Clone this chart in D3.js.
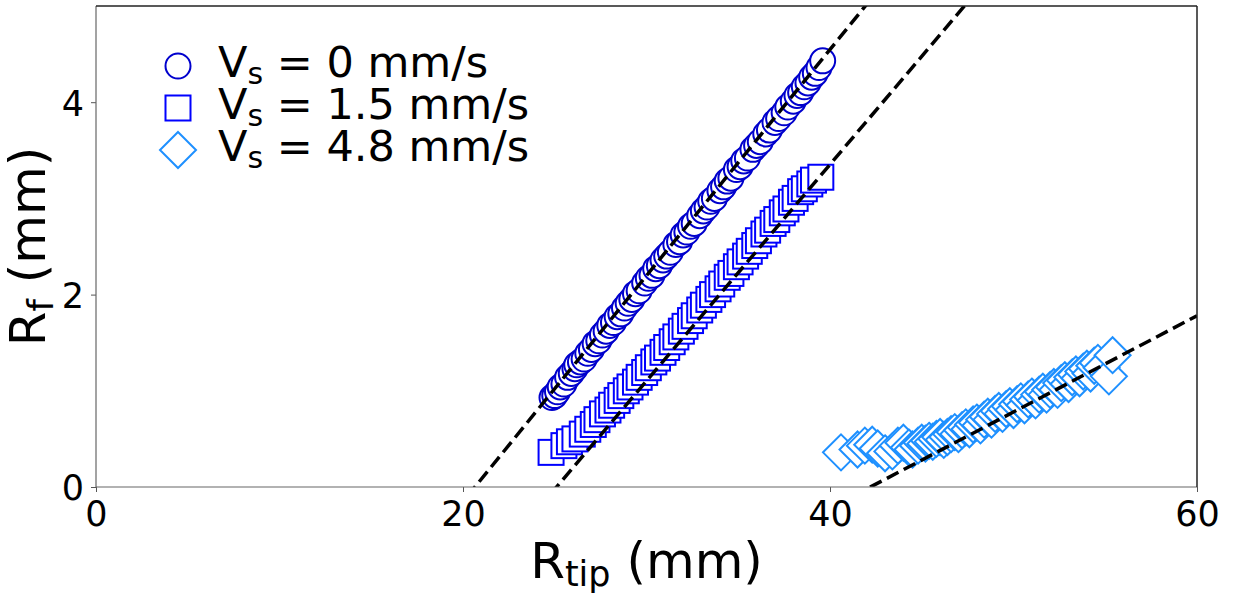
<!DOCTYPE html>
<html>
<head>
<meta charset="utf-8">
<script src="https://cdn.jsdelivr.net/npm/d3@7"></script>
<style>
  body { margin: 0; background: #fff; }
  text { font-family: "DejaVu Sans", sans-serif; }
</style>
</head>
<body>
<div id="chart"></div>
<script>
// series (R_tip in mm, R_f in mm)
const circX = [24.85, 25.0, 25.15, 25.3, 25.5, 25.7, 25.9, 26.1, 26.2, 26.4, 26.6, 26.8, 27.0, 27.2, 27.4, 27.6, 27.8, 28.0, 28.2, 28.4,
  28.6, 28.8, 29.0, 29.2, 29.4, 29.6, 29.9, 30.1, 30.3, 30.5, 30.7, 30.9, 31.1, 31.3, 31.6, 31.8, 32.0, 32.2, 32.4, 32.6,
  32.9, 33.1, 33.3, 33.5, 33.7, 34.0, 34.2, 34.4, 34.6, 34.9, 35.1, 35.3, 35.5, 35.8, 36.0, 36.2, 36.5, 36.7, 37.0, 37.2,
  37.5, 37.7, 38.0, 38.2, 38.4, 38.6, 38.8, 39.0, 39.2, 39.4, 39.6];
const circY = [0.93, 0.95, 0.99, 1.04, 1.07, 1.14, 1.18, 1.23, 1.27, 1.30, 1.33, 1.39, 1.43, 1.49, 1.52, 1.58, 1.62, 1.68, 1.71, 1.77,
  1.80, 1.86, 1.91, 1.95, 2.01, 2.04, 2.12, 2.17, 2.20, 2.27, 2.30, 2.36, 2.40, 2.44, 2.52, 2.55, 2.62, 2.65, 2.71, 2.74,
  2.82, 2.87, 2.91, 2.97, 3.00, 3.08, 3.12, 3.18, 3.21, 3.30, 3.33, 3.39, 3.42, 3.51, 3.55, 3.59, 3.67, 3.71, 3.79, 3.83,
  3.89, 3.95, 4.01, 4.07, 4.10, 4.16, 4.20, 4.26, 4.30, 4.36, 4.43];

const sqX = [24.8, 25.5, 25.8, 26.1, 26.5, 26.8, 27.1, 27.3, 27.6, 27.9, 28.1, 28.4, 28.6, 28.9, 29.1, 29.4, 29.6, 29.9, 30.1, 30.4,
  30.6, 30.9, 31.1, 31.4, 31.6, 31.9, 32.1, 32.4, 32.6, 32.9, 33.1, 33.4, 33.6, 33.9, 34.1, 34.4, 34.6, 34.9, 35.1, 35.4,
  35.6, 35.9, 36.1, 36.4, 36.6, 36.9, 37.1, 37.4, 37.6, 37.9, 38.1, 38.4, 38.6, 38.9, 39.1, 39.5];
const sqY = [0.36, 0.43, 0.47, 0.50, 0.55, 0.60, 0.65, 0.70, 0.76, 0.80, 0.85, 0.90, 0.95, 1.00, 1.04, 1.09, 1.14, 1.19, 1.24, 1.30,
  1.34, 1.40, 1.45, 1.51, 1.56, 1.62, 1.67, 1.73, 1.78, 1.84, 1.89, 1.95, 2.00, 2.06, 2.11, 2.18, 2.22, 2.29, 2.34, 2.40,
  2.45, 2.51, 2.56, 2.63, 2.67, 2.74, 2.78, 2.85, 2.89, 2.96, 3.00, 3.07, 3.10, 3.15, 3.19, 3.22];

const diaX = [40.6, 41.5, 41.9, 42.3, 42.6, 43.0, 43.4, 43.7, 44.0, 44.3, 44.5, 44.8, 45.0, 45.2, 45.4, 45.6, 45.8, 46.0, 46.2, 46.4,
  46.6, 46.8, 47.0, 47.2, 47.4, 47.6, 47.8, 48.0, 48.2, 48.4, 48.6, 48.8, 49.0, 49.2, 49.4, 49.6, 49.8, 50.0, 50.2, 50.4,
  50.6, 50.8, 51.0, 51.2, 51.4, 51.6, 51.8, 52.0, 52.2, 52.4, 52.6, 52.8, 53.0, 53.2, 53.4, 53.6, 53.8, 54.0, 54.2, 54.4,
  54.6, 54.8, 55.2, 55.4];
const diaY = [0.36, 0.39, 0.43, 0.44, 0.40, 0.35, 0.37, 0.43, 0.46, 0.41, 0.39, 0.43, 0.46, 0.45, 0.48, 0.47, 0.50, 0.52, 0.49, 0.52,
  0.55, 0.57, 0.55, 0.59, 0.62, 0.60, 0.65, 0.67, 0.64, 0.70, 0.73, 0.70, 0.76, 0.79, 0.76, 0.81, 0.84, 0.80, 0.86, 0.89,
  0.85, 0.91, 0.94, 0.90, 0.96, 0.99, 0.96, 1.01, 1.04, 1.01, 1.08, 1.11, 1.07, 1.14, 1.17, 1.13, 1.20, 1.23, 1.18, 1.26,
  1.29, 1.24, 1.15, 1.37];

// linear fits drawn as dashed lines: R_f = slope * (R_tip - x0)
const fitSlope = [0.235, 0.225, 0.1];
const fitX0 = [20.65, 25.1, 42.2];

const legendLabels = ["0", "1.5", "4.8"];
const xTicks = [0, 20, 40, 60];
const yTicks = [0, 2, 4];

const W = 1234, H = 594;
const margin = {top: 6, right: 37, bottom: 107, left: 96};
const width = W - margin.left - margin.right;
const height = H - margin.top - margin.bottom;

const svg = d3.select("#chart").append("svg")
    .attr("width", W)
    .attr("height", H);

svg.append("defs").append("clipPath").attr("id", "plotclip")
  .append("rect").attr("width", width).attr("height", height);

const g = svg.append("g")
    .attr("transform", "translate(" + margin.left + "," + margin.top + ")");

const x = d3.scaleLinear().domain([0, 60]).range([0, width]);
const y = d3.scaleLinear().domain([0, 5]).range([height, 0]);

// axes
const xAxis = g.append("g")
    .attr("transform", "translate(0," + height + ")")
    .call(d3.axisBottom(x).tickValues(xTicks).tickFormat(d3.format("d")).tickSize(5).tickPadding(7));
const yAxis = g.append("g")
    .call(d3.axisLeft(y).tickValues(yTicks).tickFormat(d3.format("d")).tickSize(5).tickPadding(7));
[xAxis, yAxis].forEach(a => {
  a.select(".domain").remove();
  a.selectAll(".tick line").attr("stroke", "#555").attr("stroke-width", 1);
  a.selectAll(".tick text")
    .style("font-family", "DejaVu Sans")
    .style("font-size", "35px")
    .attr("fill", "#000");
});
xAxis.selectAll(".tick text").attr("dy", "0.78em");
yAxis.selectAll(".tick text").attr("dy", "0.37em");

const plot = g.append("g").attr("clip-path", "url(#plotclip)");

// markers
const toPts = (xs, ys) => xs.map((v, i) => ({x: v, y: ys[i]}));
const circStroke = "#0000cd", sqStroke = "#0000ff", diaStroke = "#1e90ff";
const sqSide = 25, diaR = 18;

plot.selectAll(".circ").data(toPts(circX, circY)).enter()
  .append("circle")
    .attr("cx", d => x(d.x))
    .attr("cy", d => y(d.y))
    .attr("r", 12.5)
    .attr("fill", "#fff")
    .attr("stroke", circStroke)
    .attr("stroke-width", 2);

plot.selectAll(".sq").data(toPts(sqX, sqY)).enter()
  .append("rect")
    .attr("x", d => x(d.x) - sqSide / 2)
    .attr("y", d => y(d.y) - sqSide / 2)
    .attr("width", sqSide)
    .attr("height", sqSide)
    .attr("fill", "#fff")
    .attr("stroke", sqStroke)
    .attr("stroke-width", 2);

const diamond = (cx, cy, r) => `M${cx},${cy - r}L${cx + r},${cy}L${cx},${cy + r}L${cx - r},${cy}Z`;
plot.selectAll(".dia").data(toPts(diaX, diaY)).enter()
  .append("path")
    .attr("d", d => diamond(x(d.x), y(d.y), diaR))
    .attr("fill", "#fff")
    .attr("stroke", diaStroke)
    .attr("stroke-width", 2);

// dashed fit lines on top
const line = d3.line().x(d => x(d[0])).y(d => y(d[1]));
fitSlope.forEach((s, i) => {
  plot.append("path")
    .attr("d", line([[0, s * (0 - fitX0[i])], [60, s * (60 - fitX0[i])]]))
    .attr("fill", "none")
    .attr("stroke", "#000")
    .attr("stroke-width", 3.5)
    .attr("stroke-dasharray", "13,6");
});

// spines
g.append("line").attr("x1", 0).attr("x2", 0).attr("y1", 0).attr("y2", height)
  .attr("stroke", "#666").attr("stroke-width", 1.2);
g.append("line").attr("x1", 0).attr("x2", width).attr("y1", height).attr("y2", height)
  .attr("stroke", "#666").attr("stroke-width", 1.2);
g.append("line").attr("x1", 0).attr("x2", width).attr("y1", 0).attr("y2", 0)
  .attr("stroke", "#222").attr("stroke-width", 1.5);
g.append("line").attr("x1", width).attr("x2", width).attr("y1", 0).attr("y2", height)
  .attr("stroke", "#222").attr("stroke-width", 1.5);

// axis labels
const xl = svg.append("text")
    .attr("x", margin.left + width / 2)
    .attr("y", 578)
    .attr("text-anchor", "middle")
    .style("font-size", "50px");
xl.append("tspan").text("R");
xl.append("tspan").attr("dy", 8).style("font-size", "35px").text("tip");
xl.append("tspan").attr("dy", -8).text(" (mm)");

const yl = svg.append("text")
    .attr("transform", "translate(45," + (margin.top + height / 2) + ") rotate(-90)")
    .attr("text-anchor", "middle")
    .style("font-size", "50px");
yl.append("tspan").text("R");
yl.append("tspan").attr("dy", 8).style("font-size", "35px").text("f");
yl.append("tspan").attr("dy", -8).text("\u00a0(mm)");

// legend
const legend = svg.append("g");
const rowsY = [66, 108, 150];
const mx = 178;
legend.append("circle").attr("cx", mx).attr("cy", rowsY[0]).attr("r", 12.5)
  .attr("fill", "#fff").attr("stroke", circStroke).attr("stroke-width", 2);
legend.append("rect").attr("x", mx - sqSide / 2).attr("y", rowsY[1] - sqSide / 2)
  .attr("width", sqSide).attr("height", sqSide)
  .attr("fill", "#fff").attr("stroke", sqStroke).attr("stroke-width", 2);
legend.append("path").attr("d", diamond(mx, rowsY[2], diaR))
  .attr("fill", "#fff").attr("stroke", diaStroke).attr("stroke-width", 2);

legendLabels.forEach((lab, i) => {
  const t = legend.append("text")
      .attr("x", 218)
      .attr("y", rowsY[i] + 11)
      .style("font-size", "43px");
  t.append("tspan").text("V");
  t.append("tspan").attr("dy", 7).style("font-size", "30px").text("s");
  t.append("tspan").attr("dy", -7).text(" = " + lab + " mm/s");
});
</script>
</body>
</html>
